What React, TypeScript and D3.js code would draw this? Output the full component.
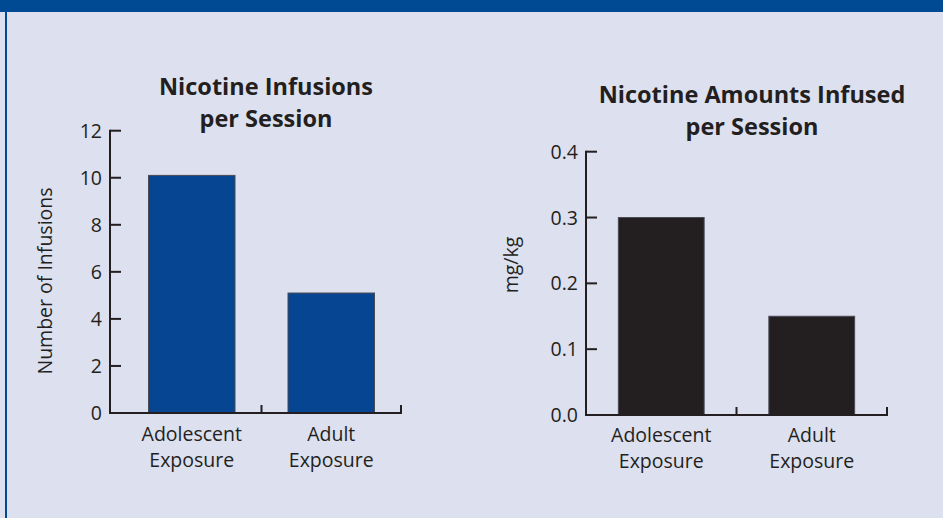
import React from "react";
import * as d3 from "d3";

const categories = ["Adolescent Exposure", "Adult Exposure"];
const infusions = [10.1, 5.1];
const amounts = [0.3, 0.15];
const infusionTicks = [0, 2, 4, 6, 8, 10, 12];
const amountTicks = [0, 0.1, 0.2, 0.3, 0.4];

const W = 943;
const H = 518;
const TEXT = "#231f20";
const FONT = "'Open Sans', 'Noto Sans', sans-serif";
const FS = 19.5;

type PanelProps = {
  values: number[];
  ticks: number[];
  tickFmt: (v: number) => string;
  yMax: number;
  axisX: number;
  bandStart: number;
  bandEnd: number;
  padding: number;
  y0: number;
  yTop: number;
  barColor: string;
  title: string[];
  titleX: number;
  titleY: number;
  yLabel: string;
  yLabelX: number;
  yLabelY: number;
  labelY: number;
};

function Panel(p: PanelProps) {
  const y = d3.scaleLinear().domain([0, p.yMax]).range([p.y0, p.yTop]);
  const x = d3
    .scaleBand<string>()
    .domain(categories)
    .range([p.bandStart, p.bandEnd])
    .paddingInner(p.padding)
    .paddingOuter(p.padding / 2);
  const outer = d3.scaleBand<string>().domain(categories).range([p.bandStart, p.bandEnd]);
  return (
    <g>
      {p.title.map((t, i) => (
        <text
          key={t}
          x={p.titleX}
          y={p.titleY + i * 32}
          textAnchor="middle"
          fontFamily={FONT}
          fontWeight="bold"
          fontSize={23.5}
          fill={TEXT}
        >
          {t}
        </text>
      ))}
      <text
        transform={`translate(${p.yLabelX},${p.yLabelY}) rotate(-90)`}
        textAnchor="middle"
        fontFamily={FONT}
        fontSize={FS}
        fill={TEXT}
      >
        {p.yLabel}
      </text>
      {p.values.map((v, i) => (
        <rect
          key={i}
          x={x(categories[i])}
          y={y(v)}
          width={x.bandwidth()}
          height={p.y0 - y(v)}
          fill={p.barColor}
          stroke="#4a4a55"
          strokeWidth={1}
        />
      ))}
      <line x1={p.axisX} x2={p.axisX} y1={y(p.yMax) - 1} y2={p.y0 + 1} stroke={TEXT} strokeWidth={2} />
      <line x1={p.axisX} x2={p.bandEnd + 1} y1={p.y0} y2={p.y0} stroke={TEXT} strokeWidth={2} />
      {p.ticks.map((t) => (
        <g key={t}>
          <line x1={p.axisX} x2={p.axisX + 11} y1={y(t)} y2={y(t)} stroke={TEXT} strokeWidth={2} />
          <text
            x={p.axisX - 8}
            y={y(t)}
            dy="0.36em"
            textAnchor="end"
            fontFamily={FONT}
            fontSize={FS}
            fill={TEXT}
          >
            {p.tickFmt(t)}
          </text>
        </g>
      ))}
      {categories.map((c) => (
        <line
          key={c}
          x1={(outer(c) as number) + outer.bandwidth()}
          x2={(outer(c) as number) + outer.bandwidth()}
          y1={p.y0}
          y2={p.y0 - 8}
          stroke={TEXT}
          strokeWidth={2}
        />
      ))}
      {categories.map((c) => {
        const cx = (x(c) as number) + x.bandwidth() / 2;
        return c.split(" ").map((w, j) => (
          <text
            key={c + j}
            x={cx}
            y={p.labelY + j * 26}
            textAnchor="middle"
            fontFamily={FONT}
            fontSize={FS}
            fill={TEXT}
          >
            {w}
          </text>
        ));
      })}
    </g>
  );
}

export default function App() {
  return (
    <svg
      width={W}
      height={H}
      style={{ position: "absolute", left: 0, top: 0, display: "block" }}
    >
      <rect x={0} y={0} width={W} height={H} fill="#dde0ef" />
      <rect x={0} y={0} width={W} height={12} fill="#004a93" />
      <rect x={5} y={0} width={2} height={H} fill="#004a93" />
      <Panel
        values={infusions}
        ticks={infusionTicks}
        tickFmt={(v) => String(v)}
        yMax={12}
        axisX={110}
        bandStart={122}
        bandEnd={401}
        padding={0.38}
        y0={413}
        yTop={130.7}
        barColor="#064592"
        title={["Nicotine Infusions", "per Session"]}
        titleX={266}
        titleY={95}
        yLabel="Number of Infusions"
        yLabelX={52}
        yLabelY={281}
        labelY={441}
      />
      <Panel
        values={amounts}
        ticks={amountTicks}
        tickFmt={(v) => d3.format(".1f")(v)}
        yMax={0.4}
        axisX={586}
        bandStart={586}
        bandEnd={887}
        padding={0.43}
        y0={415}
        yTop={151.7}
        barColor="#231f20"
        title={["Nicotine Amounts Infused", "per Session"]}
        titleX={752}
        titleY={103}
        yLabel="mg/kg"
        yLabelX={518}
        yLabelY={265}
        labelY={442}
      />
    </svg>
  );
}
